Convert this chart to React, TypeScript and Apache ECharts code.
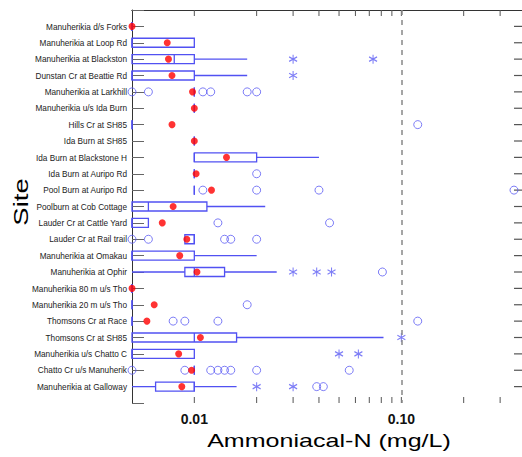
import { useEffect, useRef } from 'react';
import * as echarts from 'echarts';

// Monitoring sites, top to bottom
const SITES = [
  'Manuherikia d/s Forks',
  'Manuherikia at Loop Rd',
  'Manuherikia at Blackston',
  'Dunstan Cr at Beattie Rd',
  'Manuherikia at Larkhill',
  'Manuherikia u/s Ida Burn',
  'Hills Cr at SH85',
  'Ida Burn at SH85',
  'Ida Burn at Blackstone H',
  'Ida Burn at Auripo Rd',
  'Pool Burn at Auripo Rd',
  'Poolburn at Cob Cottage',
  'Lauder Cr at Cattle Yard',
  'Lauder Cr at Rail trail',
  'Manuherikia at Omakau',
  'Manuherikia at Ophir',
  'Manuherikia 80 m u/s Tho',
  'Manuherikia 20 m u/s Tho',
  'Thomsons Cr at Race',
  'Thomsons Cr at SH85',
  'Manuherikia u/s Chatto C',
  'Chatto Cr u/s Manuherik',
  'Manuherikia at Galloway',
];

// Box-plot statistics per site (mg/L)
const WHISKER_LOW = [0.005, 0.005, 0.005, 0.005, 0.01, 0.01, 0.005, 0.01, 0.01, 0.01, 0.01, 0.005, 0.005, 0.009, 0.005, 0.005, 0.005, 0.005, 0.005, 0.005, 0.005, 0.01, 0.005];
const Q1 = [0.005, 0.005, 0.005, 0.005, 0.01, 0.01, 0.005, 0.01, 0.01, 0.01, 0.01, 0.005, 0.005, 0.009, 0.005, 0.009, 0.005, 0.005, 0.005, 0.005, 0.005, 0.01, 0.0065];
const MEDIAN = [0.005, 0.005, 0.008, 0.005, 0.01, 0.01, 0.005, 0.01, 0.01, 0.01, 0.01, 0.006, 0.005, 0.01, 0.005, 0.01, 0.005, 0.005, 0.005, 0.01, 0.005, 0.01, 0.01];
const Q3 = [0.005, 0.01, 0.01, 0.01, 0.01, 0.01, 0.005, 0.01, 0.02, 0.01, 0.01, 0.0115, 0.006, 0.01, 0.01, 0.014, 0.005, 0.005, 0.005, 0.016, 0.01, 0.01, 0.01];
const WHISKER_HIGH = [0.005, 0.01, 0.018, 0.018, 0.01, 0.01, 0.005, 0.01, 0.04, 0.01, 0.01, 0.022, 0.006, 0.01, 0.02, 0.025, 0.005, 0.005, 0.005, 0.082, 0.01, 0.01, 0.016];
const MEAN = [0.005, 0.0074, 0.0075, 0.0078, 0.0098, 0.01, 0.0078, 0.01, 0.0143, 0.0102, 0.0121, 0.0079, 0.007, 0.0092, 0.0085, 0.0103, 0.005, 0.0064, 0.0059, 0.0107, 0.0084, 0.0097, 0.0087];

// Outlying values (circles) and extreme values (asterisks), one list per site
const OUTLIERS: number[][] = [
  [], [], [], [],
  [0.005, 0.006, 0.011, 0.012, 0.018, 0.02],
  [],
  [0.12],
  [], [],
  [0.02],
  [0.011, 0.02, 0.04, 0.35],
  [],
  [0.013, 0.045],
  [0.005, 0.006, 0.014, 0.015, 0.02],
  [],
  [0.081],
  [],
  [0.018],
  [0.0079, 0.009, 0.013, 0.12],
  [], [],
  [0.005, 0.009, 0.012, 0.013, 0.014, 0.015, 0.02, 0.056],
  [0.039, 0.042],
];
const EXTREMES: number[][] = [
  [], [],
  [0.03, 0.073],
  [0.03],
  [], [], [], [], [], [], [], [], [], [], [],
  [0.03, 0.039, 0.046],
  [], [], [],
  [0.1],
  [0.05, 0.062],
  [],
  [0.02, 0.03],
];

// Axis range, tick positions and guideline
const X_MIN = 0.005;
const X_MAX = 0.4;
const X_TICKS = [0.01, 0.02, 0.03, 0.04, 0.05, 0.06, 0.07, 0.08, 0.09, 0.1, 0.2, 0.3];
const GUIDELINE = 0.1;

const BLUE = '#5151f2';
const POINT_BLUE = '#5c5cf4';
const TICK_GREY = '#555';
const ASTERISK = 'path://M5,0L5,10M0.67,2.5L9.33,7.5M0.67,7.5L9.33,2.5';
const FONT = 'Liberation Sans, Arial, sans-serif';

export default function App() {
  const ref = useRef<HTMLDivElement>(null);

  useEffect(() => {
    if (!ref.current) return;
    const chart = echarts.init(ref.current, null, { renderer: 'svg' });

    const isDecade = (v: number, p: number) => Math.abs(Math.log10(v) - p) < 1e-6;

    chart.setOption({
      animation: false,
      backgroundColor: '#fff',
      grid: { left: 132, top: 10, width: 394, height: 393, outerBoundsMode: 'none' },
      xAxis: [
        {
          type: 'log',
          logBase: 10,
          min: X_MIN,
          max: X_MAX,
          position: 'bottom',
          axisLine: { show: true, lineStyle: { color: '#333', width: 1 } },
          axisTick: { show: false },
          splitLine: { show: false },
          axisLabel: {
            margin: 9,
            fontSize: 14,
            fontWeight: 'bold',
            color: '#111',
            fontFamily: FONT,
            formatter: (v: number) => (isDecade(v, -2) ? '0.01' : isDecade(v, -1) ? '0.10' : ''),
          },
        },
        {
          type: 'log',
          logBase: 10,
          min: X_MIN,
          max: X_MAX,
          position: 'top',
          axisLine: { show: true, lineStyle: { color: '#333', width: 1 } },
          axisTick: { show: false },
          splitLine: { show: false },
          axisLabel: { show: false },
        },
      ],
      yAxis: {
        type: 'value',
        min: 0,
        max: SITES.length + 1,
        interval: 1,
        inverse: true,
        position: 'left',
        splitLine: { show: false },
        axisLabel: { show: false },
        axisLine: { show: true, lineStyle: { color: '#333', width: 1 } },
        axisTick: { show: true, inside: true, length: 12, lineStyle: { color: '#666', width: 1 } },
      },
      series: [
        {
          // ticks along the top and bottom frame
          type: 'custom',
          silent: true,
          data: X_TICKS.map((v) => [v, 1]),
          encode: { x: 0, y: 1 },
          renderItem: (params: any, api: any) => {
            const x = api.coord([api.value(0), 1])[0];
            const cs = params.coordSys;
            const len = 6;
            const style = { stroke: TICK_GREY, lineWidth: 1 };
            return {
              type: 'group',
              children: [
                { type: 'line', shape: { x1: x, y1: cs.y, x2: x, y2: cs.y + len }, style },
                { type: 'line', shape: { x1: x, y1: cs.y + cs.height - len, x2: x, y2: cs.y + cs.height }, style },
              ],
            };
          },
        },
        {
          // site ticks along the right frame
          type: 'custom',
          silent: true,
          data: SITES.map((_, i) => [0.01, i + 1]),
          encode: { x: 0, y: 1 },
          renderItem: (params: any, api: any) => {
            const y = api.coord([0.01, api.value(1)])[1];
            const right = params.coordSys.x + params.coordSys.width;
            return {
              type: 'line',
              shape: { x1: right - 12, y1: y, x2: right, y2: y },
              style: { stroke: TICK_GREY, lineWidth: 1.2 },
            };
          },
        },
        {
          // boxes with median and whiskers
          type: 'custom',
          silent: true,
          z: 3,
          data: SITES.map((_, i) => [i + 1, WHISKER_LOW[i], Q1[i], MEDIAN[i], Q3[i], WHISKER_HIGH[i]]),
          encode: { x: [1, 2, 3, 4, 5], y: 0 },
          renderItem: (_params: any, api: any) => {
            const site = api.value(0);
            const xLo = api.coord([api.value(1), site])[0];
            const [xQ1, y] = api.coord([api.value(2), site]);
            const xMed = api.coord([api.value(3), site])[0];
            const xQ3 = api.coord([api.value(4), site])[0];
            const xHi = api.coord([api.value(5), site])[0];
            const h = 4.5;
            const line = { stroke: BLUE, lineWidth: 1.3 };
            const children: any[] = [];
            if (xQ1 - xLo > 0.5) {
              children.push({ type: 'line', shape: { x1: xLo, y1: y, x2: xQ1, y2: y }, style: line });
            }
            if (xHi - xQ3 > 0.5) {
              children.push({ type: 'line', shape: { x1: xQ3, y1: y, x2: xHi, y2: y }, style: line });
            }
            children.push({
              type: 'polygon',
              shape: { points: [[xQ1, y - h], [xQ3, y - h], [xQ3, y + h], [xQ1, y + h]] },
              style: { ...line, fill: 'none' },
            });
            children.push({ type: 'line', shape: { x1: xMed, y1: y - h, x2: xMed, y2: y + h }, style: line });
            return { type: 'group', children };
          },
        },
        {
          type: 'scatter',
          name: 'Outliers',
          clip: false,
          z: 4,
          symbol: 'circle',
          symbolSize: 8,
          itemStyle: { color: 'transparent', borderColor: POINT_BLUE, borderWidth: 1 },
          data: OUTLIERS.flatMap((vals, i) => vals.map((v) => [v, i + 1])),
        },
        {
          type: 'scatter',
          name: 'Extremes',
          clip: false,
          z: 4,
          symbol: ASTERISK,
          symbolSize: [8, 9],
          itemStyle: { color: 'none', borderColor: POINT_BLUE, borderWidth: 1.1 },
          data: EXTREMES.flatMap((vals, i) => vals.map((v) => [v, i + 1])),
        },
        {
          type: 'scatter',
          name: 'Mean',
          clip: false,
          z: 5,
          symbol: 'circle',
          symbolSize: 7,
          itemStyle: { color: '#ff0000' },
          data: MEAN.map((v, i) => [v, i + 1]),
          markLine: {
            silent: true,
            symbol: ['none', 'none'],
            label: { show: false },
            lineStyle: { color: '#888', width: 1.5, type: [5, 5] },
            data: [{ xAxis: GUIDELINE }],
          },
        },
      ],
    });

    // Site names, placed at the y-axis positions and drawn slightly condensed
    const siteLabels = SITES.map((name, i) => {
      const y = chart.convertToPixel({ yAxisIndex: 0 }, i + 1) as number;
      return {
        type: 'text',
        x: 127,
        y,
        scaleX: 0.84,
        style: {
          text: name,
          fontSize: 9.8,
          fontFamily: FONT,
          fill: '#222',
          align: 'right',
          verticalAlign: 'middle',
        },
      };
    });

    chart.setOption({
      graphic: [
        ...siteLabels,
        {
          type: 'text',
          x: 329,
          y: 441,
          scaleX: 1.32,
          style: {
            text: 'Ammoniacal-N (mg/L)',
            fontSize: 19,
            fontFamily: FONT,
            fill: '#000',
            align: 'center',
            verticalAlign: 'middle',
          },
        },
        {
          type: 'text',
          x: 21,
          y: 202,
          rotation: Math.PI / 2,
          scaleX: 1.31,
          style: {
            text: 'Site',
            fontSize: 21,
            fontFamily: FONT,
            fill: '#000',
            align: 'center',
            verticalAlign: 'middle',
          },
        },
      ],
    });

    return () => chart.dispose();
  }, []);

  return <div ref={ref} style={{ position: 'absolute', left: 0, top: 0, width: 522, height: 457 }} />;
}
